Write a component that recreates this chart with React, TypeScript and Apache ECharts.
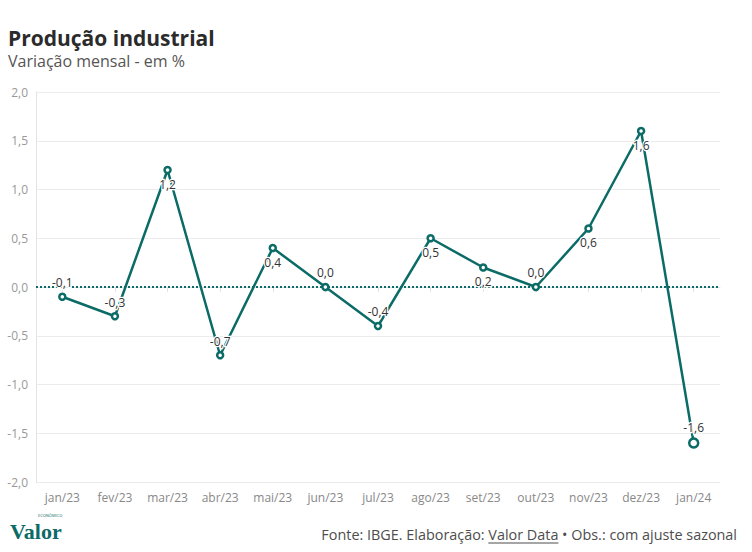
import React, { useEffect, useRef } from "react";
import * as echarts from "echarts";

const categories = ["jan/23", "fev/23", "mar/23", "abr/23", "mai/23", "jun/23", "jul/23", "ago/23", "set/23", "out/23", "nov/23", "dez/23", "jan/24"];
const values = [-0.1, -0.3, 1.2, -0.7, 0.4, 0.0, -0.4, 0.5, 0.2, 0.0, 0.6, 1.6, -1.6];
const yTicks = [-2, -1.5, -1, -0.5, 0, 0.5, 1, 1.5, 2];

const TEAL = "#0b6b66";
const FONT = "'Open Sans', 'Noto Sans', sans-serif";

const fmt = (v: number) => v.toFixed(1).replace(".", ",");

function measure(text: string, font: string): number {
  const c = document.createElement("canvas").getContext("2d");
  if (!c) return text.length * 7;
  c.font = font;
  return c.measureText(text).width;
}

export default function App() {
  const ref = useRef<HTMLDivElement>(null);
  useEffect(() => {
    if (!ref.current) return;
    document.body.style.margin = "0";
    const chart = echarts.init(ref.current, undefined, { renderer: "svg" });

    const footSize = 14.4;
    const footFont = `${footSize}px 'Open Sans'`;
    const p1 = "Fonte: IBGE. Elaboração: ";
    const p2 = "Valor Data";
    const p3 = " • Obs.: com ajuste sazonal";
    const w1 = measure(p1, footFont);
    const w2 = measure(p2, footFont);
    const w3 = measure(p3, footFont);
    const right = 737;
    const x3 = right - w3;
    const x2 = x3 - w2;
    const x1 = x2 - w1;
    const footY = 534;
    const footStyle = { fontSize: footSize, fontFamily: FONT, fill: "#4d4d4d", verticalAlign: "middle" as const };

    chart.setOption({
      animation: false,
      backgroundColor: "#fff",
      grid: { left: 36, right: 32, top: 92, bottom: 70, containLabel: false },
      xAxis: {
        type: "category",
        data: categories,
        boundaryGap: true,
        axisLine: { show: true, lineStyle: { color: "#e3e3e3", width: 1 } },
        axisTick: { show: true, alignWithLabel: true, length: 5, interval: 0, lineStyle: { color: "#e3e3e3" } },
        axisLabel: { color: "#888", fontSize: 12, fontFamily: FONT, margin: 9, interval: 0 },
        splitLine: { show: false },
      },
      yAxis: {
        type: "value",
        min: -2,
        max: 2,
        interval: 0.5,
        axisLine: { show: true, lineStyle: { color: "#e3e3e3", width: 1 } },
        axisTick: { show: false },
        axisLabel: { color: "#999", fontSize: 12, fontFamily: FONT, margin: 8, formatter: (v: number) => (yTicks.includes(v) ? fmt(v) : "") },
        splitLine: { show: true, lineStyle: { color: "#ececec", width: 1 } },
      },
      series: [
        {
          type: "line",
          data: values.map((v, i) => ({
            value: v,
            symbolSize: i === values.length - 1 ? 9 : 6,
            label: { position: v > 0 ? "bottom" : "top" },
          })),
          lineStyle: { color: TEAL, width: 2.5 },
          itemStyle: { color: "#fff", borderColor: TEAL, borderWidth: 2.5 },
          symbol: "circle",
          showSymbol: true,
          z: 3,
          label: {
            show: true,
            distance: 4,
            color: "#333333",
            fontSize: 12,
            fontFamily: FONT,
            textBorderColor: "#ffffff",
            textBorderWidth: 2.5,
            formatter: (p: any) => fmt(p.value),
          },
          markLine: {
            silent: true,
            symbol: ["none", "none"],
            label: { show: false },
            lineStyle: { color: TEAL, type: [2, 2], width: 2 },
            data: [{ yAxis: 0 }],
            z: 2,
          },
        },
      ],
      graphic: [
        {
          type: "text",
          left: 8,
          top: 27,
          style: { text: "Produção industrial", fontSize: 21, lineHeight: 22, fontWeight: "bold", fontFamily: FONT, fill: "#2b2b2b" },
        },
        {
          type: "text",
          left: 8,
          top: 52,
          style: { text: "Variação mensal - em %", fontSize: 16, lineHeight: 18, fontFamily: FONT, fill: "#555" },
        },
        {
          type: "text",
          x: 10,
          y: 531,
          style: { text: "Valor", fontSize: 22, lineHeight: 20, fontWeight: "bold", fontFamily: "'Liberation Serif', 'DejaVu Serif', serif", fill: TEAL, verticalAlign: "middle" },
        },
        {
          type: "text",
          x: 38,
          y: 515,
          style: { text: "ECONÔMICO", fontSize: 4, lineHeight: 4, fontFamily: FONT, fill: TEAL, verticalAlign: "middle" },
        },
        { type: "text", x: x1, y: footY, style: { text: p1, ...footStyle } },
        { type: "text", x: x2, y: footY, style: { text: p2, ...footStyle } },
        { type: "text", x: x3, y: footY, style: { text: p3, ...footStyle } },
        {
          type: "line",
          shape: { x1: x2, y1: footY + 9, x2: x2 + w2, y2: footY + 9 },
          style: { stroke: "#4d4d4d", lineWidth: 1 },
        },
      ],
    });
    return () => chart.dispose();
  }, []);
  return <div ref={ref} style={{ width: 752, height: 552 }} />;
}
